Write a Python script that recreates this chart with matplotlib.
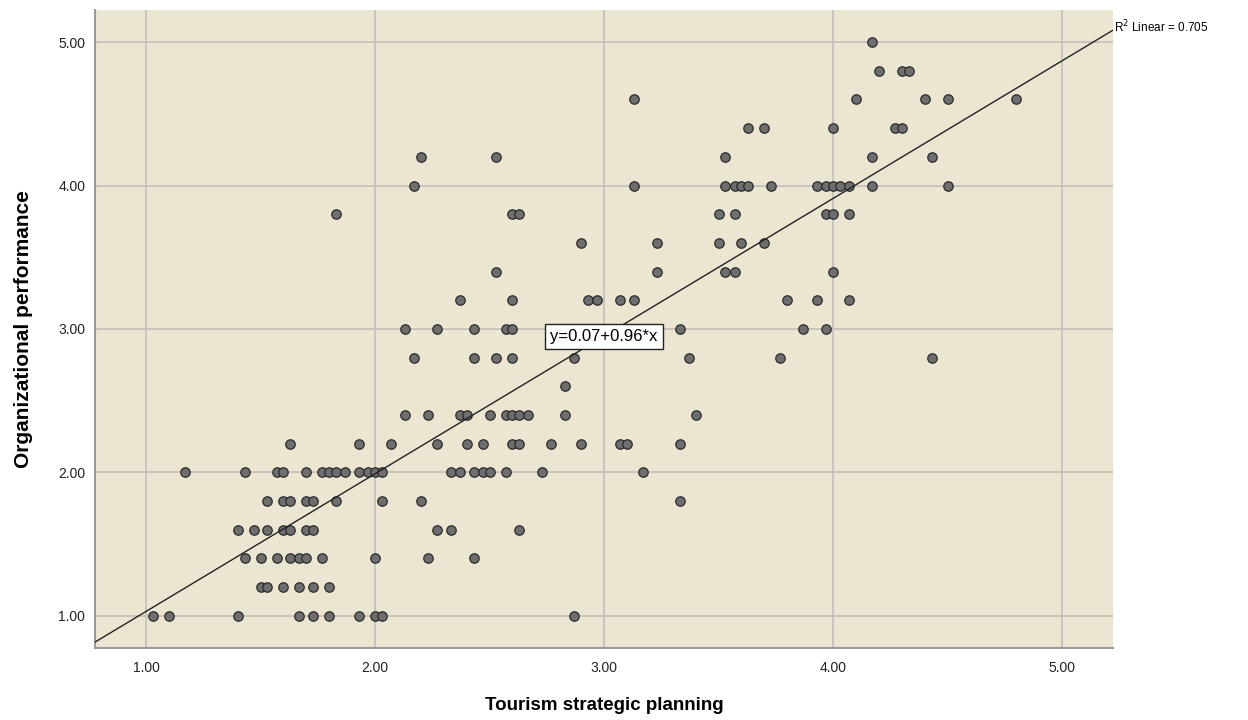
import matplotlib
matplotlib.use("Agg")
import matplotlib.pyplot as plt

plt.rcParams['font.family'] = ['Liberation Sans', 'DejaVu Sans']

# Tourism strategic planning (x) e Organizational performance (y), una riga per livello di y
planning = [
    1.03, 1.10, 1.40, 1.67, 1.73, 1.80, 1.93, 2.00, 2.03, 2.87,                      # 1.0
    1.50, 1.53, 1.60, 1.67, 1.73, 1.80,                                              # 1.2
    1.43, 1.50, 1.57, 1.63, 1.67, 1.70, 1.77, 2.00, 2.23, 2.43,                      # 1.4
    1.40, 1.47, 1.53, 1.60, 1.63, 1.70, 1.73, 2.27, 2.33, 2.63,                      # 1.6
    1.53, 1.60, 1.63, 1.70, 1.73, 1.83, 2.03, 2.20, 3.33,                            # 1.8
    1.17, 1.43, 1.57, 1.60, 1.70, 1.77, 1.80, 1.83, 1.87, 1.93, 1.97, 2.00, 2.03,
    2.33, 2.37, 2.43, 2.47, 2.50, 2.57, 2.73, 3.17,                                  # 2.0
    1.63, 1.93, 2.07, 2.27, 2.40, 2.47, 2.60, 2.63, 2.77, 2.90, 3.07, 3.10, 3.33,    # 2.2
    2.13, 2.23, 2.37, 2.40, 2.50, 2.57, 2.60, 2.63, 2.67, 2.83, 3.40,                # 2.4
    2.83,                                                                            # 2.6
    2.17, 2.43, 2.53, 2.60, 2.87, 3.37, 3.77, 4.43,                                  # 2.8
    2.13, 2.27, 2.43, 2.57, 2.60, 3.33, 3.87, 3.97,                                  # 3.0
    2.37, 2.60, 2.93, 2.97, 3.07, 3.13, 3.80, 3.93, 4.07,                            # 3.2
    2.53, 3.23, 3.53, 3.57, 4.00,                                                    # 3.4
    2.90, 3.23, 3.50, 3.60, 3.70,                                                    # 3.6
    1.83, 2.60, 2.63, 3.50, 3.57, 3.97, 4.00, 4.07,                                  # 3.8
    2.17, 3.13, 3.53, 3.57, 3.60, 3.63, 3.73, 3.93, 3.97, 4.00, 4.03, 4.07, 4.17, 4.50,  # 4.0
    2.20, 2.53, 3.53, 4.17, 4.43,                                                    # 4.2
    3.63, 3.70, 4.00, 4.27, 4.30,                                                    # 4.4
    3.13, 4.10, 4.40, 4.50, 4.80,                                                    # 4.6
    4.20, 4.30, 4.33,                                                                # 4.8
    4.17,                                                                            # 5.0
]
performance = (
    [1.0] * 10 + [1.2] * 6 + [1.4] * 10 + [1.6] * 10 + [1.8] * 9 + [2.0] * 21
    + [2.2] * 13 + [2.4] * 11 + [2.6] * 1 + [2.8] * 8 + [3.0] * 8 + [3.2] * 9
    + [3.4] * 5 + [3.6] * 5 + [3.8] * 8 + [4.0] * 14 + [4.2] * 5 + [4.4] * 5
    + [4.6] * 5 + [4.8] * 3 + [5.0] * 1
)

# retta di regressione come riportata nel grafico
intercetta = 0.07
pendenza = 0.96
r2 = 0.705

fig = plt.figure(figsize=(12.48, 7.2), dpi=100)
ax = fig.add_axes([0.0761, 0.1, 0.8155, 0.8861])
ax.set_facecolor('#EBE5D1')

ax.set_xlim(0.777, 5.221)
ax.set_ylim(0.775, 5.224)
ticks = [1, 2, 3, 4, 5]
ax.set_xticks(ticks)
ax.set_yticks(ticks)
ax.set_xticklabels(['%.2f' % t for t in ticks])
ax.set_yticklabels(['%.2f' % t for t in ticks])
ax.tick_params(length=0, labelsize=10, colors='#222222')
ax.tick_params(axis='x', pad=9)
ax.tick_params(axis='y', pad=7)
ax.grid(True, color='#C4C2BC', linewidth=1.3)
ax.set_axisbelow(True)

for lato in ['top', 'right']:
    ax.spines[lato].set_visible(False)
for lato in ['left', 'bottom']:
    ax.spines[lato].set_color('#9A9A9A')
    ax.spines[lato].set_linewidth(1.5)

ax.scatter(planning, performance, s=46, c='#6E6E6E', edgecolors='#2A2A2A',
           linewidths=0.9, zorder=3)

xl = ax.get_xlim()
ax.plot(xl, [intercetta + pendenza * v for v in xl], color='#222222', linewidth=1.0, zorder=4)
ax.set_xlim(xl)

xm = 3.0
ax.text(xm, intercetta + pendenza * xm, 'y=%.2f+%.2f*x' % (intercetta, pendenza),
        ha='center', va='center', fontsize=12, zorder=5,
        bbox=dict(boxstyle='square,pad=0.3', facecolor='white', edgecolor='#222222', linewidth=1))

fig.text(0.8925, 0.962, 'R$^2$ Linear = %.3f' % r2, ha='left', va='center', fontsize=8.5)

ax.set_xlabel('Tourism strategic planning', fontsize=13.5, fontweight='bold', labelpad=16)
ax.set_ylabel('Organizational performance', fontsize=15, fontweight='bold', labelpad=18)

plt.savefig('out.png', dpi=100)
